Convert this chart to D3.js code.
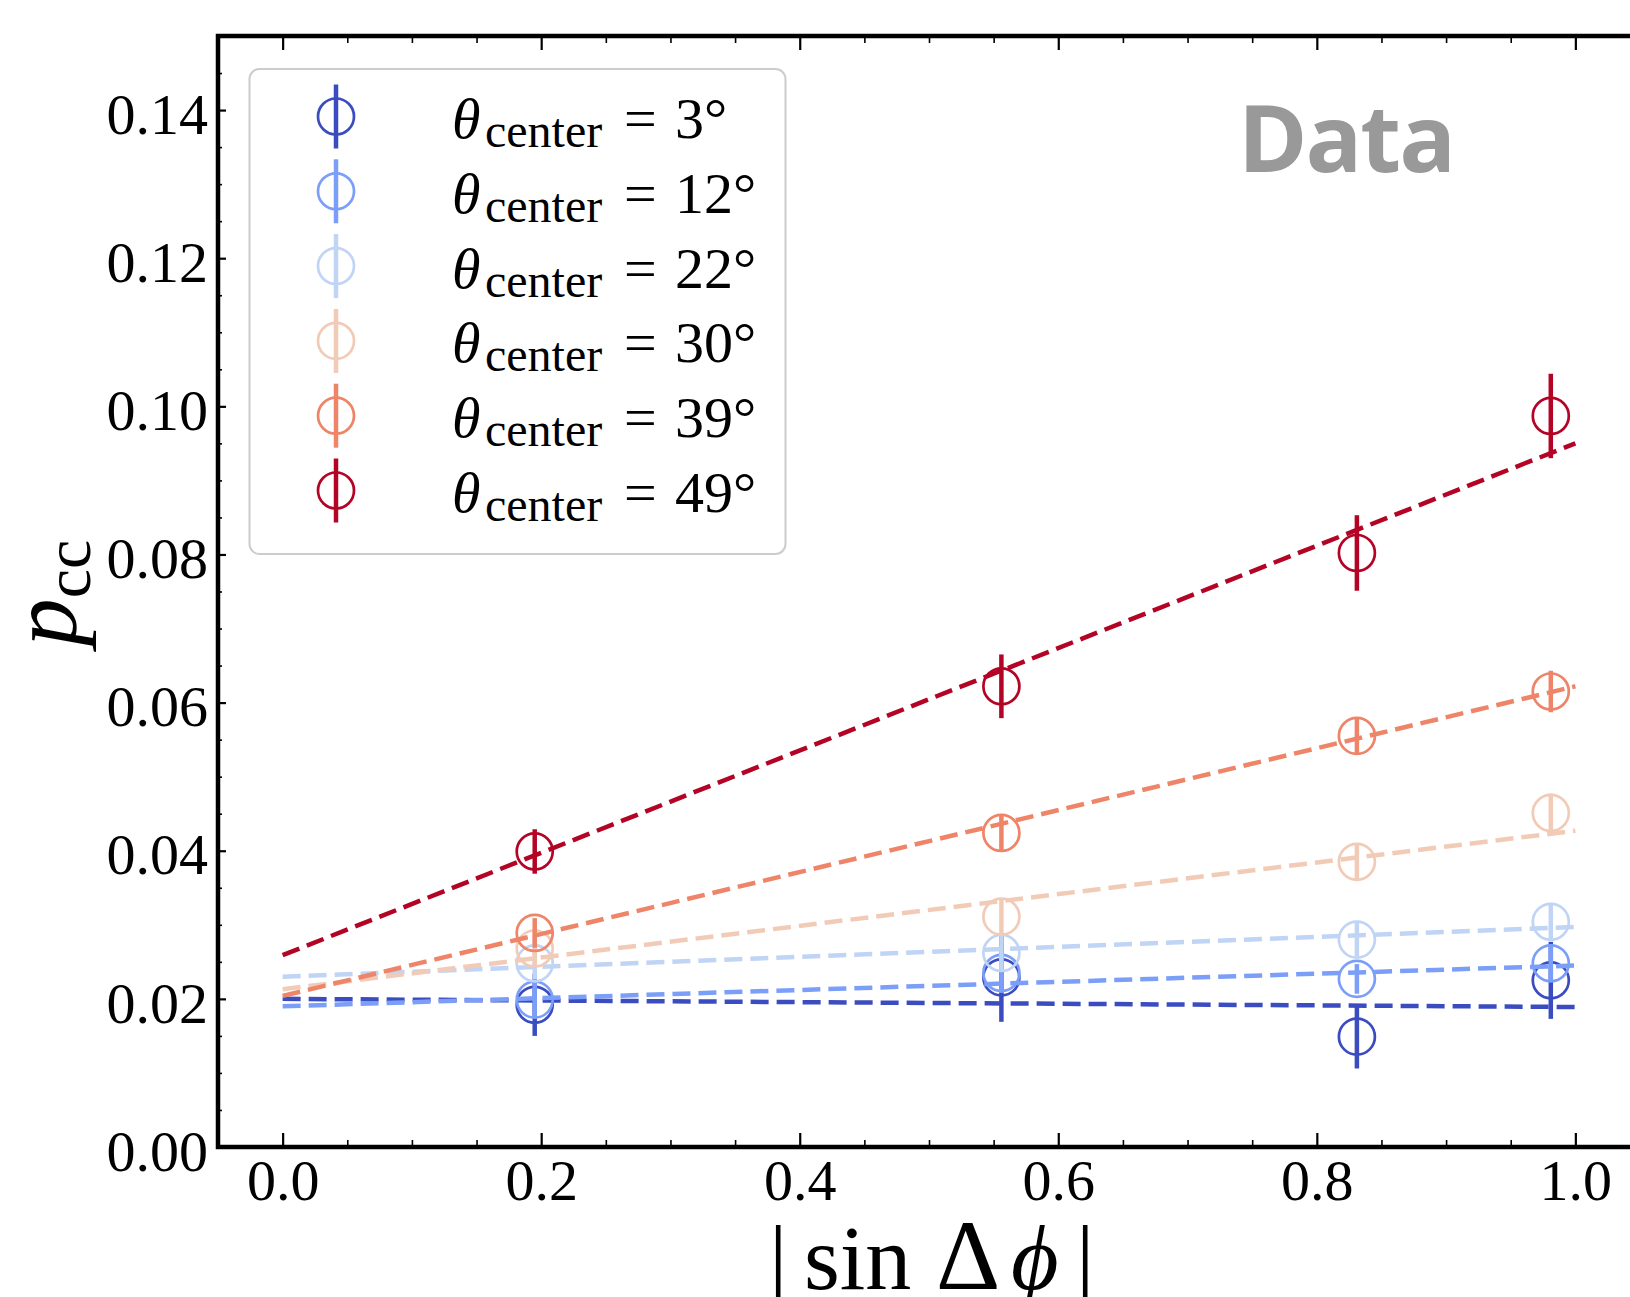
<!DOCTYPE html>
<html>
<head>
<meta charset="utf-8">
<script src="https://cdn.jsdelivr.net/npm/d3@7"></script>
<style>
  body { margin: 0; background: #fff; }
  svg { display: block; }
</style>
</head>
<body>
<div id="chart"></div>
<script>
// |sin Δφ| bin centres
const SIN_DPHI = [0.195, 0.556, 0.831, 0.981];
const THETA_CENTER = [3, 12, 22, 30, 39, 49];

// p_cc per theta bin, with errors
const PCC_3  = [0.0192, 0.0229, 0.0149, 0.0225];
const ERR_3  = [0.0042, 0.0060, 0.0043, 0.0052];
const PCC_12 = [0.0199, 0.0235, 0.0227, 0.0248];
const ERR_12 = [0.0025, 0.0027, 0.0020, 0.0023];
const PCC_22 = [0.0248, 0.0262, 0.0280, 0.0304];
const ERR_22 = [0.0022, 0.0025, 0.0023, 0.0024];
const PCC_30 = [0.0268, 0.0311, 0.0385, 0.0451];
const ERR_30 = [0.0022, 0.0024, 0.0025, 0.0026];
const PCC_39 = [0.0289, 0.0424, 0.0555, 0.0615];
const ERR_39 = [0.0020, 0.0025, 0.0025, 0.0028];
const PCC_49 = [0.0399, 0.0622, 0.0802, 0.0987];
const ERR_49 = [0.0030, 0.0043, 0.0051, 0.0057];

// linear fits: value at |sin Δφ| = 0 and = 1
const FIT_AT_0 = [0.0200, 0.0190, 0.0230, 0.0213, 0.0204, 0.0259];
const FIT_AT_1 = [0.0189, 0.0245, 0.0297, 0.0427, 0.0622, 0.0950];

const X_TICKS = [0.0, 0.2, 0.4, 0.6, 0.8, 1.0];
const Y_TICKS = [0.00, 0.02, 0.04, 0.06, 0.08, 0.10, 0.12, 0.14];

// coolwarm sampled at 6 points
const COLORS = ['#3b4cc0', '#7b9ff9', '#c0d4f5', '#f2cbb7', '#ee8468', '#b40426'];

const PCC = [PCC_3, PCC_12, PCC_22, PCC_30, PCC_39, PCC_49];
const ERR = [ERR_3, ERR_12, ERR_22, ERR_30, ERR_39, ERR_49];

(function() {
    const W = 1630, H = 1297;
    const pL = 218, pR = 1640, pT = 36, pB = 1147;
    const serif = '"Liberation Serif", "Times New Roman", serif';

    const svg = d3.select('#chart').append('svg')
        .attr('width', W).attr('height', H)
        .attr('viewBox', '0 0 ' + W + ' ' + H);

    const x = d3.scaleLinear().domain([-0.05, 1.05]).range([pL, pR]);
    const y = d3.scaleLinear().domain([0, 0.15]).range([pB, pT]);

    // minor tick values
    const xMinor = d3.range(-0.05, 1.0501, 0.05).filter(function(v) {
        return Math.abs(v * 5 - Math.round(v * 5)) > 1e-6;
    });
    const yMinor = d3.range(0, 0.1501, 0.005).filter(function(v) {
        return Math.abs(v * 50 - Math.round(v * 50)) > 1e-6;
    });

    function styleAxis(g, width) {
        g.select('.domain').remove();
        g.selectAll('.tick line').attr('stroke', '#000').attr('stroke-width', width);
    }

    // bottom
    svg.append('g').attr('transform', 'translate(0,' + pB + ')')
        .call(d3.axisBottom(x).tickValues(X_TICKS).tickSize(-14).tickPadding(12).tickFormat(d3.format('.1f')))
        .call(styleAxis, 2.2)
        .call(function(g) {
            g.selectAll('text').attr('font-family', serif).attr('font-size', 58).attr('fill', '#000');
        });
    svg.append('g').attr('transform', 'translate(0,' + pB + ')')
        .call(d3.axisBottom(x).tickValues(xMinor).tickSize(-7).tickFormat(''))
        .call(styleAxis, 1.6);
    // top
    svg.append('g').attr('transform', 'translate(0,' + pT + ')')
        .call(d3.axisTop(x).tickValues(X_TICKS).tickSize(-14).tickFormat(''))
        .call(styleAxis, 2.2);
    svg.append('g').attr('transform', 'translate(0,' + pT + ')')
        .call(d3.axisTop(x).tickValues(xMinor).tickSize(-7).tickFormat(''))
        .call(styleAxis, 1.6);
    // left
    svg.append('g').attr('transform', 'translate(' + pL + ',0)')
        .call(d3.axisLeft(y).tickValues(Y_TICKS).tickSize(-8).tickPadding(10).tickFormat(d3.format('.2f')))
        .call(styleAxis, 2.2)
        .call(function(g) {
            g.selectAll('text').attr('font-family', serif).attr('font-size', 58)
                .attr('fill', '#000').attr('dy', '0.4em');
        });
    svg.append('g').attr('transform', 'translate(' + pL + ',0)')
        .call(d3.axisLeft(y).tickValues(yMinor).tickSize(-4).tickFormat(''))
        .call(styleAxis, 1.6);
    // right
    svg.append('g').attr('transform', 'translate(' + pR + ',0)')
        .call(d3.axisRight(y).tickValues(Y_TICKS).tickSize(-9).tickFormat(''))
        .call(styleAxis, 2.2);
    svg.append('g').attr('transform', 'translate(' + pR + ',0)')
        .call(d3.axisRight(y).tickValues(yMinor).tickSize(-5).tickFormat(''))
        .call(styleAxis, 1.6);

    // series
    const gData = svg.append('g');
    THETA_CENTER.forEach(function(th, i) {
        const g = gData.append('g');
        const pts = SIN_DPHI.map(function(s, j) { return { s: s, v: PCC[i][j], e: ERR[i][j] }; });

        g.selectAll('line.err').data(pts).join('line')
            .attr('class', 'err')
            .attr('x1', function(d) { return x(d.s); })
            .attr('x2', function(d) { return x(d.s); })
            .attr('y1', function(d) { return y(d.v - d.e); })
            .attr('y2', function(d) { return y(d.v + d.e); })
            .attr('stroke', COLORS[i]).attr('stroke-width', 4.5);

        g.selectAll('circle').data(pts).join('circle')
            .attr('cx', function(d) { return x(d.s); })
            .attr('cy', function(d) { return y(d.v); })
            .attr('r', 18)
            .attr('fill', 'none')
            .attr('stroke', COLORS[i]).attr('stroke-width', 2.7);

        const fit = [[0, FIT_AT_0[i]], [1, FIT_AT_1[i]]];
        g.append('path')
            .attr('d', d3.line().x(function(d) { return x(d[0]); }).y(function(d) { return y(d[1]); })(fit))
            .attr('fill', 'none')
            .attr('stroke', COLORS[i])
            .attr('stroke-width', 4.5)
            .attr('stroke-dasharray', '18,8');
    });

    // spines
    svg.append('rect')
        .attr('x', pL).attr('y', pT)
        .attr('width', pR - pL).attr('height', pB - pT)
        .attr('fill', 'none').attr('stroke', '#000').attr('stroke-width', 4.5);

    // legend
    const lg = svg.append('g');
    lg.append('rect')
        .attr('x', 249.5).attr('y', 69).attr('width', 536).attr('height', 485)
        .attr('rx', 10).attr('ry', 10)
        .attr('fill', 'rgba(255,255,255,0.85)')
        .attr('stroke', '#cccccc').attr('stroke-width', 2);

    THETA_CENTER.forEach(function(th, i) {
        const cy = 116.5 + i * 74.8;
        const row = lg.append('g');
        row.append('line')
            .attr('x1', 336).attr('x2', 336).attr('y1', cy - 32).attr('y2', cy + 32)
            .attr('stroke', COLORS[i]).attr('stroke-width', 4.5);
        row.append('circle')
            .attr('cx', 336).attr('cy', cy).attr('r', 18)
            .attr('fill', 'none').attr('stroke', COLORS[i]).attr('stroke-width', 2.7);

        const t = row.append('text')
            .attr('font-family', serif).attr('font-size', 58).attr('fill', '#000')
            .attr('y', cy + 21.5);
        t.append('tspan').attr('x', 452).attr('font-style', 'italic').text('\u03b8');
        t.append('tspan').attr('x', 485).attr('dy', 9).attr('font-size', 48).text('center');
        t.append('tspan').attr('x', 624).attr('dy', -9).text('=');
        t.append('tspan').attr('x', 675).text(th + '\u00b0');
    });

    // "Data" tag
    svg.append('text')
        .attr('x', 1238).attr('y', 172)
        .attr('font-family', '"Open Sans", "Noto Sans", sans-serif')
        .attr('font-weight', 700).attr('font-size', 94)
        .attr('letter-spacing', -2)
        .attr('fill', '#999999')
        .text('Data');

    // y label
    const yl = svg.append('text')
        .attr('transform', 'translate(76,593) rotate(-90)')
        .attr('text-anchor', 'middle')
        .attr('font-family', serif).attr('fill', '#000');
    yl.append('tspan').attr('font-style', 'italic').attr('font-size', 96).text('p');
    yl.append('tspan').attr('font-size', 66).attr('dy', 14).text('cc');

    // x label (cut by the bottom edge, as in the source figure)
    const xl = svg.append('text')
        .attr('y', 1289)
        .attr('font-family', serif).attr('font-size', 92).attr('fill', '#000');
    xl.append('tspan').attr('x', 769).text('|');
    xl.append('tspan').attr('x', 804).text('sin');
    xl.append('tspan').attr('x', 936).attr('font-size', 100).text('\u0394');
    xl.append('tspan').attr('x', 1011).attr('font-style', 'italic').text('\u03d5');
    xl.append('tspan').attr('x', 1076).text('|');
})();
</script>
</body>
</html>
